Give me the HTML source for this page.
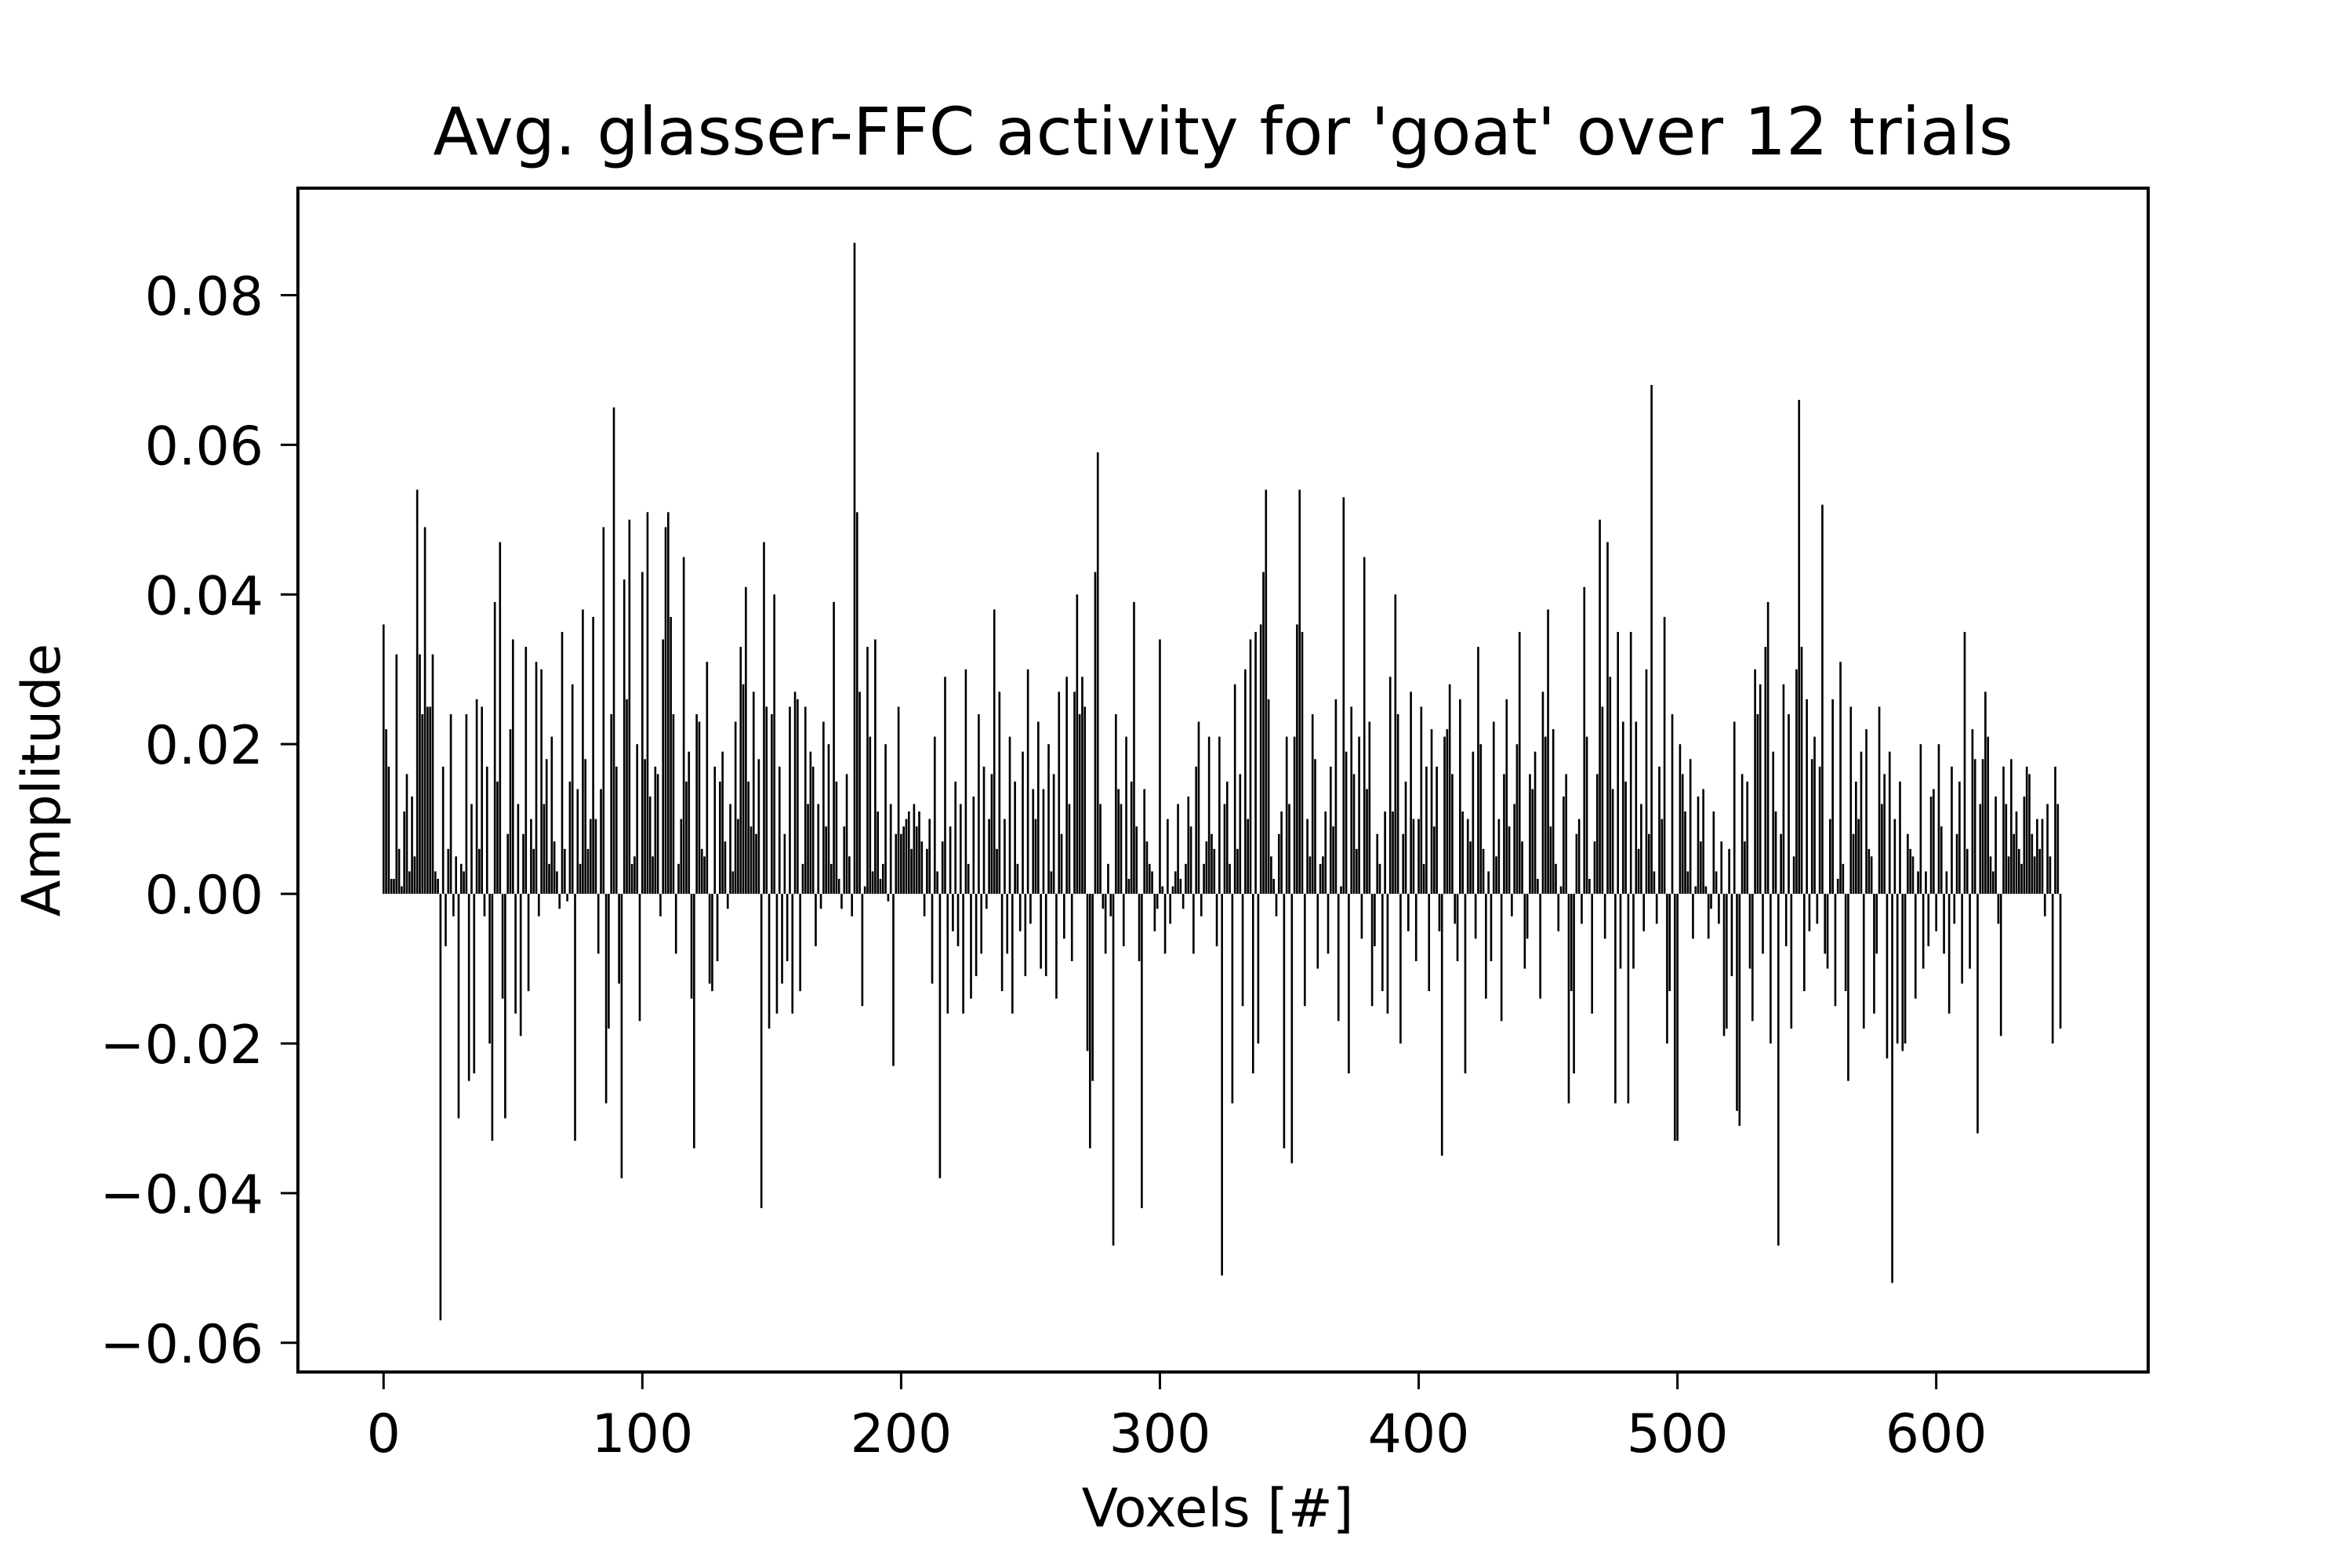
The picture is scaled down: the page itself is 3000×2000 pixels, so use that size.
<!DOCTYPE html>
<html><head><meta charset="utf-8">
<style>
html,body{margin:0;padding:0;background:#fff;}
svg{display:block;font-family:"DejaVu Sans","Liberation Sans",sans-serif;}
</style></head>
<body>
<svg id="chart" width="3000" height="2000" viewBox="0 0 3000 2000" xmlns="http://www.w3.org/2000/svg">
<rect width="3000" height="2000" fill="#fff"/>
<text x="1560" y="197" font-size="84" text-anchor="middle">Avg. glasser-FFC activity for 'goat' over 12 trials</text>
<g id="bars"></g>
<g id="xticks"></g>
<g id="yticks"></g>
<rect x="380" y="240" width="2360" height="1510" fill="none" stroke="#000" stroke-width="4"/>
<text x="1553" y="1947" font-size="68" text-anchor="middle">Voxels [#]</text>
<text transform="translate(76,995) rotate(-90)" font-size="68" text-anchor="middle">Amplitude</text>
</svg>
<script>
const amplitudes = [
0.036,0.022,0.017,0.002,0.002,0.032,0.006,0.001,0.011,0.016,0.003,0.013,0.005,0.054,0.032,0.024,0.049,0.025,0.025,0.032,0.003,0.002,-0.057,0.017,-0.007,0.006,0.024,-0.003,0.005,-0.030,0.004,0.003,0.024,-0.025,0.012,-0.024,0.026,0.006,0.025,-0.003,0.017,-0.020,-0.033,0.039,0.015,0.047,-0.014,-0.030,0.008,0.022,
0.034,-0.016,0.012,-0.019,0.008,0.033,-0.013,0.010,0.006,0.031,-0.003,0.030,0.012,0.018,0.004,0.021,0.007,0.003,-0.002,0.035,0.006,-0.001,0.015,0.028,-0.033,0.014,0.004,0.038,0.018,0.006,0.010,0.037,0.010,-0.008,0.014,0.049,-0.028,-0.018,0.024,0.065,0.017,-0.012,-0.038,0.042,0.026,0.050,0.004,0.005,0.020,-0.017,
0.043,0.018,0.051,0.013,0.005,0.017,0.016,-0.003,0.034,0.049,0.051,0.037,0.024,-0.008,0.004,0.010,0.045,0.015,0.019,-0.014,-0.034,0.024,0.023,0.006,0.005,0.031,-0.012,-0.013,0.017,-0.009,0.015,0.019,0.007,-0.002,0.012,0.003,0.023,0.010,0.033,0.028,0.041,0.015,0.009,0.027,0.008,0.018,-0.042,0.047,0.025,-0.018,
0.024,0.040,-0.016,0.017,-0.012,0.008,-0.009,0.025,-0.016,0.027,0.026,-0.013,0.004,0.025,0.012,0.019,0.017,-0.007,0.012,-0.002,0.023,0.009,0.020,0.004,0.039,0.015,0.002,-0.002,0.009,0.016,0.005,-0.003,0.087,0.051,0.027,-0.015,0.001,0.033,0.021,0.003,0.034,0.011,0.002,0.004,0.020,-0.001,0.012,-0.023,0.008,0.025,
0.008,0.009,0.010,0.011,0.006,0.012,0.009,0.011,0.007,-0.003,0.006,0.010,-0.012,0.021,0.003,-0.038,0.007,0.029,-0.016,0.009,-0.005,0.015,-0.007,0.012,-0.016,0.030,0.004,-0.014,0.013,-0.011,0.024,-0.008,0.017,-0.002,0.010,0.016,0.038,0.006,0.027,-0.013,0.010,-0.008,0.021,-0.016,0.015,0.004,-0.005,0.019,-0.011,0.030,
-0.004,0.014,0.010,0.023,-0.010,0.014,-0.011,0.020,0.003,0.016,-0.014,0.027,0.008,-0.006,0.029,0.012,-0.009,0.027,0.040,0.024,0.029,0.025,-0.021,-0.034,-0.025,0.043,0.059,0.012,-0.002,-0.008,0.004,-0.003,-0.047,0.024,0.014,0.012,-0.007,0.021,0.002,0.015,0.039,0.009,-0.009,-0.042,0.014,0.007,0.004,0.003,-0.005,-0.002,
0.034,0.001,-0.008,0.010,-0.004,0.001,0.003,0.012,0.002,-0.002,0.004,0.013,0.009,-0.008,0.017,0.023,-0.003,0.004,0.007,0.021,0.008,0.006,-0.007,0.021,-0.051,0.012,0.015,0.004,-0.028,0.028,0.006,0.016,-0.015,0.030,0.010,0.034,-0.024,0.035,-0.020,0.036,0.043,0.054,0.026,0.005,0.002,-0.003,0.008,0.011,-0.034,0.021,
0.012,-0.036,0.021,0.036,0.054,0.035,-0.015,0.010,0.005,0.024,0.018,-0.010,0.004,0.005,0.011,-0.008,0.017,0.009,0.026,-0.017,0.001,0.053,0.019,-0.024,0.025,0.016,0.006,0.021,-0.006,0.045,0.014,0.023,-0.015,-0.007,0.008,0.004,-0.013,0.011,-0.016,0.029,0.011,0.040,0.024,-0.020,0.008,0.015,-0.005,0.027,0.010,-0.009,
0.010,0.025,0.004,0.017,-0.013,0.022,0.009,0.017,-0.005,-0.035,0.021,0.022,0.028,0.016,-0.004,-0.009,0.026,0.011,-0.024,0.010,0.007,0.019,-0.006,0.033,0.020,0.006,-0.014,0.003,-0.009,0.023,0.005,0.010,-0.017,0.016,0.026,0.009,-0.003,0.012,0.020,0.035,0.007,-0.010,-0.006,0.016,0.014,0.019,0.002,-0.014,0.027,0.021,
0.038,0.009,0.022,0.004,-0.005,0.001,0.013,0.016,-0.028,-0.013,-0.024,0.008,0.010,-0.004,0.041,0.021,0.002,-0.016,0.007,0.016,0.050,0.025,-0.006,0.047,0.029,0.014,-0.028,0.035,-0.010,0.023,0.015,-0.028,0.035,-0.010,0.023,0.006,0.012,-0.005,0.030,0.008,0.068,0.003,-0.004,0.017,0.010,0.037,-0.020,-0.013,0.024,-0.033,
-0.033,0.020,0.016,0.011,0.003,0.018,-0.006,0.001,0.013,0.007,0.014,0.001,-0.006,-0.002,0.011,0.003,-0.004,0.007,-0.019,-0.018,0.006,-0.011,0.023,-0.029,-0.031,0.016,0.007,0.015,-0.010,-0.017,0.030,0.024,0.028,-0.008,0.033,0.039,-0.020,0.019,0.011,-0.047,0.008,0.028,-0.007,0.024,-0.018,0.005,0.030,0.066,0.033,-0.013,
0.026,-0.005,0.018,0.021,-0.004,0.017,0.052,-0.008,-0.010,0.010,0.026,-0.015,0.002,0.031,0.004,-0.013,-0.025,0.025,0.008,0.015,0.010,0.019,-0.018,0.022,0.006,0.005,-0.016,-0.008,0.025,0.012,0.016,-0.022,0.019,-0.052,0.010,-0.020,0.015,-0.021,-0.020,0.008,0.006,0.005,-0.014,0.003,0.020,-0.010,0.003,-0.007,0.013,0.014,
-0.005,0.020,0.009,-0.008,0.003,-0.016,0.017,-0.004,0.008,0.015,-0.012,0.035,0.006,-0.010,0.022,0.018,-0.032,0.012,0.018,0.027,0.021,0.005,0.003,0.013,-0.004,-0.019,0.017,0.012,0.005,0.018,0.008,0.011,0.006,0.004,0.013,0.017,0.016,0.008,0.005,0.010,0.006,0.010,-0.003,0.012,0.005,-0.020,0.017,0.012,-0.018
];
const xTickValues = [0,100,200,300,400,500,600];
const yTickValues = [-0.06,-0.04,-0.02,0,0.02,0.04,0.06,0.08];
const yTickLabels = ["\u22120.06","\u22120.04","\u22120.02","0.00","0.02","0.04","0.06","0.08"];

const NS = "http://www.w3.org/2000/svg";
const L=380,R=2740,T=240,B=1750;
const xMin=-33.1,xMax=681.9,yMin=-0.0639,yMax=0.0943;
function xs(v){return L+(v-xMin)/(xMax-xMin)*(R-L);}
function ys(v){return B-(v-yMin)/(yMax-yMin)*(B-T);}
const bw = 0.8*(R-L)/(xMax-xMin);

const bars=document.getElementById('bars');
amplitudes.forEach((v,i)=>{
  const r=document.createElementNS(NS,'rect');
  const y0=ys(0), y1=ys(v);
  r.setAttribute('x',xs(i)-bw/2);
  r.setAttribute('y',Math.min(y0,y1));
  r.setAttribute('width',bw);
  r.setAttribute('height',Math.max(0.5,Math.abs(y1-y0)));
  r.setAttribute('fill','#000');
  
  
  bars.appendChild(r);
});
const xg=document.getElementById('xticks');
xTickValues.forEach(v=>{
  const x=xs(v);
  const l=document.createElementNS(NS,'line');
  l.setAttribute('x1',x);l.setAttribute('x2',x);l.setAttribute('y1',B);l.setAttribute('y2',B+22);
  l.setAttribute('stroke','#000');l.setAttribute('stroke-width','3');
  
  
  xg.appendChild(l);
  const t=document.createElementNS(NS,'text');
  t.setAttribute('x',x);t.setAttribute('y',1852);t.setAttribute('font-size','68');t.setAttribute('text-anchor','middle');
  t.textContent=String(v);
  
  
  xg.appendChild(t);
});
const yg=document.getElementById('yticks');
yTickValues.forEach((v,i)=>{
  const y=ys(v);
  const l=document.createElementNS(NS,'line');
  l.setAttribute('x1',L-22);l.setAttribute('x2',L);l.setAttribute('y1',y);l.setAttribute('y2',y);
  l.setAttribute('stroke','#000');l.setAttribute('stroke-width','3');
  
  
  yg.appendChild(l);
  const t=document.createElementNS(NS,'text');
  t.setAttribute('x',L-44);t.setAttribute('y',y+25);t.setAttribute('font-size','68');t.setAttribute('text-anchor','end');
  t.textContent=yTickLabels[i];
  
  
  yg.appendChild(t);
});
</script>
</body></html>
